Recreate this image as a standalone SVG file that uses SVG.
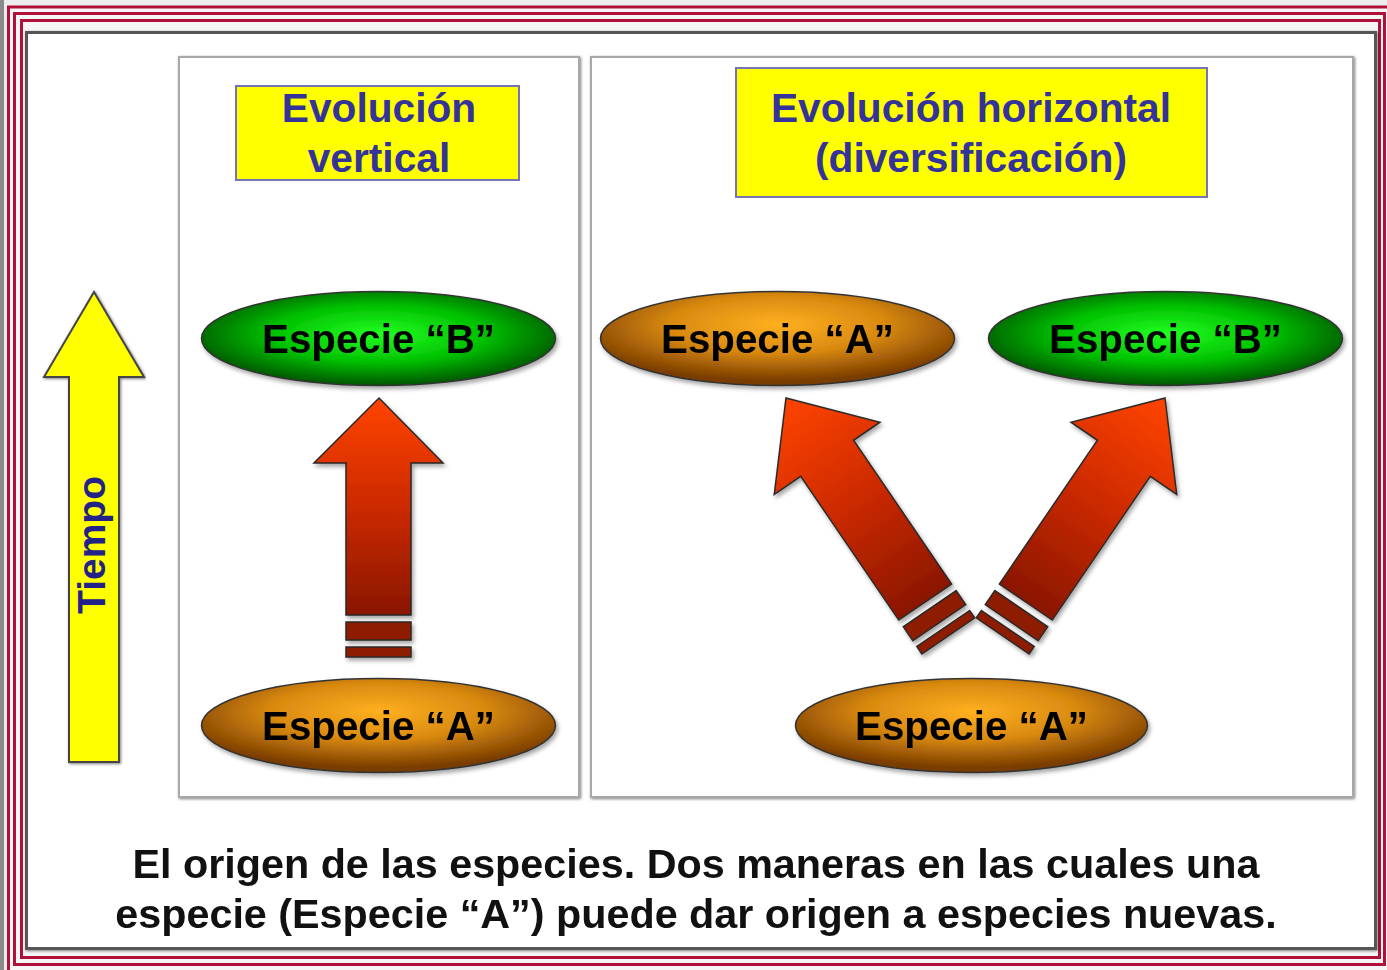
<svg xmlns="http://www.w3.org/2000/svg" width="1387" height="970" viewBox="0 0 1387 970">
<defs>
<style>
.red{fill:none;stroke:#b0103a;stroke-width:3}
.panel{fill:#fff;stroke:#a8a8a8;stroke-width:2}
.tbox{fill:#ffff00;stroke:#7474b4;stroke-width:2}
.ttl{font-family:"Liberation Sans",Arial,sans-serif;font-weight:bold;font-size:40.7px;fill:#333399;text-anchor:middle}
.sp{font-family:"Liberation Sans",Arial,sans-serif;font-weight:bold;font-size:40.3px;fill:#000;text-anchor:middle}
.cap{font-family:"Liberation Sans",Arial,sans-serif;font-weight:bold;font-size:41.3px;fill:#111;text-anchor:middle}
.ell{stroke:#333;stroke-width:1.5}
.arw{fill:url(#gRed);stroke:#2a2a2a;stroke-width:1.5;stroke-linejoin:miter}
.bar{fill:#8e1c00;stroke:#2a2a2a;stroke-width:1.5}
</style>
<radialGradient id="gGreen" cx="0.5" cy="0.45" r="0.55">
<stop offset="0" stop-color="#22ff22"/>
<stop offset="0.55" stop-color="#00c000"/>
<stop offset="1" stop-color="#005500"/>
</radialGradient>
<radialGradient id="gOrange" cx="0.5" cy="0.35" r="0.6">
<stop offset="0" stop-color="#ffb020"/>
<stop offset="0.5" stop-color="#d98a10"/>
<stop offset="1" stop-color="#7a3c00"/>
</radialGradient>
<linearGradient id="gRed" x1="0" y1="0" x2="0" y2="1">
<stop offset="0" stop-color="#ff4400"/>
<stop offset="0.5" stop-color="#cc2a00"/>
<stop offset="1" stop-color="#8a1600"/>
</linearGradient>
<filter id="sh" x="-10%" y="-10%" width="130%" height="130%">
<feDropShadow dx="2" dy="3" stdDeviation="2" flood-color="#000" flood-opacity="0.35"/>
</filter>
<filter id="fsh" x="-2%" y="-2%" width="104%" height="104%">
<feDropShadow dx="1" dy="1" stdDeviation="1.5" flood-color="#000" flood-opacity="0.5"/>
</filter>
</defs>

<!-- background and decorative border -->
<rect x="0" y="0" width="1387" height="970" fill="#ececec"/>
<rect x="0" y="0" width="4" height="970" fill="#8a8a8a"/>
<rect x="8.5" y="7" width="1390" height="975" fill="#f6f6f6"/>
<rect class="red" x="8.5" y="7" width="1390" height="975"/>
<rect class="red" x="14.5" y="13.5" width="1370" height="951"/>
<rect class="red" x="21.5" y="20.5" width="1358" height="937"/>

<!-- main frame -->
<rect x="26.5" y="32.5" width="1349" height="916" fill="#fff" stroke="#555" stroke-width="3" filter="url(#fsh)"/>

<!-- panels -->
<g id="panel-left"><rect class="panel" x="179" y="57" width="400" height="740" filter="url(#fsh)"/></g>
<g id="panel-right"><rect class="panel" x="591" y="57" width="762" height="740" filter="url(#fsh)"/></g>

<!-- titles -->
<g id="title-vertical">
<rect class="tbox" x="236" y="86" width="283" height="94"/>
<text class="ttl" x="379" y="122">Evolución</text>
<text class="ttl" x="379" y="172">vertical</text>
</g>
<g id="title-horizontal">
<rect class="tbox" x="736" y="68" width="471" height="129"/>
<text class="ttl" x="971" y="122">Evolución horizontal</text>
<text class="ttl" x="971" y="172">(diversificación)</text>
</g>

<!-- time arrow -->
<g id="tiempo">
<polygon points="94,292 144,377 119,377 119,762 69,762 69,377 44,377" fill="#ffff00" stroke="#444" stroke-width="2" filter="url(#fsh)"/>
<text transform="translate(105,545) rotate(-90)" style="font-family:'Liberation Sans',Arial,sans-serif;font-weight:bold;font-size:39px;fill:#222288;text-anchor:middle">Tiempo</text>
</g>

<!-- connectors -->
<g id="connectors" filter="url(#sh)">
<g id="arrow-vertical">
<path class="arw" d="M379,398 L443,463 L411,463 L411,615 L346,615 L346,463 L314,463 Z"/>
<rect class="bar" x="346" y="622" width="65" height="18"/>
<rect class="bar" x="346" y="647" width="65" height="10"/>
</g>
<g id="arrow-diag-left" transform="translate(786,398) rotate(-34.3)">
<path class="arw" d="M0,0 L64,73 L32,73 L32,247 L-32,247 L-32,73 L-64,73 Z"/>
<rect class="bar" x="-32" y="255" width="64" height="17"/>
<rect class="bar" x="-32" y="279" width="64" height="9"/>
</g>
<g id="arrow-diag-right" transform="translate(1165,398) rotate(34.3)">
<path class="arw" d="M0,0 L64,73 L32,73 L32,247 L-32,247 L-32,73 L-64,73 Z"/>
<rect class="bar" x="-32" y="255" width="64" height="17"/>
<rect class="bar" x="-32" y="279" width="64" height="9"/>
</g>
</g>

<!-- species nodes -->
<g id="left-B">
<ellipse class="ell" cx="378.5" cy="338.5" rx="177" ry="47" fill="url(#gGreen)" filter="url(#sh)"/>
<text class="sp" x="378.5" y="353">Especie “B”</text>
</g>
<g id="left-A">
<ellipse class="ell" cx="378.5" cy="725.5" rx="177" ry="47" fill="url(#gOrange)" filter="url(#sh)"/>
<text class="sp" x="378.5" y="740">Especie “A”</text>
</g>
<g id="right-A-top">
<ellipse class="ell" cx="777.5" cy="338.5" rx="177" ry="47" fill="url(#gOrange)" filter="url(#sh)"/>
<text class="sp" x="777.5" y="353">Especie “A”</text>
</g>
<g id="right-B">
<ellipse class="ell" cx="1165.5" cy="338.5" rx="177" ry="47" fill="url(#gGreen)" filter="url(#sh)"/>
<text class="sp" x="1165.5" y="353">Especie “B”</text>
</g>
<g id="right-A-bottom">
<ellipse class="ell" cx="971.5" cy="725.5" rx="176" ry="47" fill="url(#gOrange)" filter="url(#sh)"/>
<text class="sp" x="971.5" y="740">Especie “A”</text>
</g>

<!-- caption -->
<g id="caption">
<text class="cap" x="696" y="878">El origen de las especies. Dos maneras en las cuales una</text>
<text class="cap" x="696" y="928">especie (Especie “A”) puede dar origen a especies nuevas.</text>
</g>
</svg>
